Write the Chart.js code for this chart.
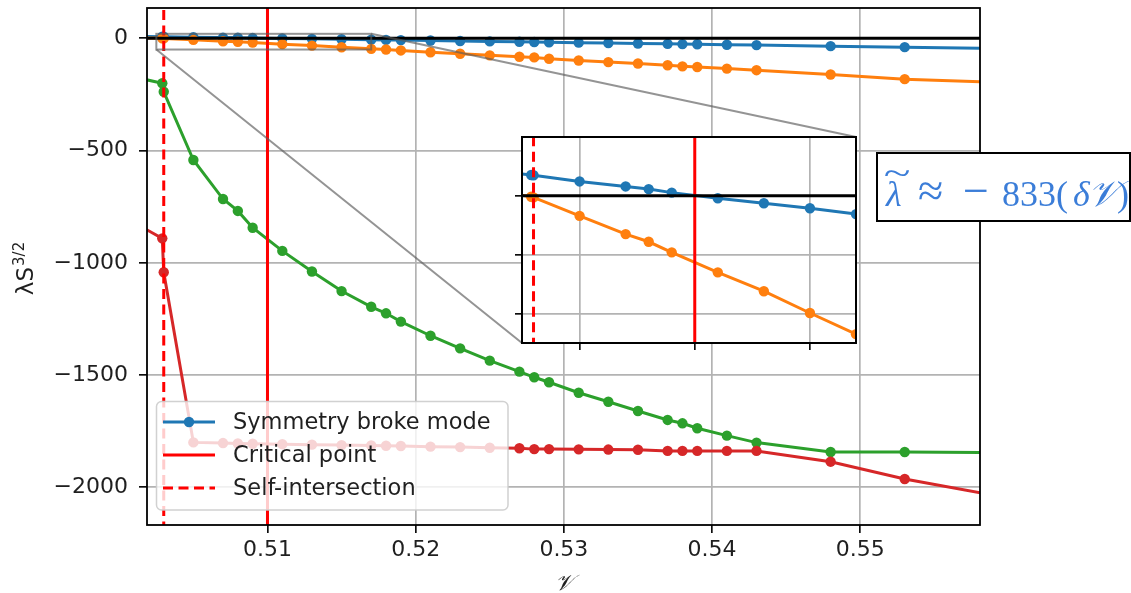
<!DOCTYPE html>
<html>
<head>
<meta charset="utf-8">
<script src="https://cdn.jsdelivr.net/npm/chart.js@4.4.1/dist/chart.umd.min.js"></script>
<style>
  html, body { margin: 0; padding: 0; background: #ffffff; }
  #wrap { position: relative; width: 1131px; height: 593px; overflow: hidden; }
  #main { position: absolute; left: 0; top: 0; }
  #inset { position: absolute; left: 505px; top: 127px; }
</style>
</head>
<body>
<div id="wrap">
  <canvas id="main" width="1131" height="593"></canvas>
  <canvas id="inset" width="360" height="230"></canvas>
</div>
<script>
// Control parameter ν (shared by all four eigenvalue branches)
const nu = [0.5015, 0.5029, 0.5030, 0.505, 0.507, 0.508, 0.509, 0.511, 0.513, 0.515,
            0.517, 0.518, 0.519, 0.521, 0.523, 0.525, 0.527, 0.528, 0.529, 0.531,
            0.533, 0.535, 0.537, 0.538, 0.539, 0.541, 0.543, 0.548, 0.553, 0.560];

// λ S^{3/2} for each branch
const symmetryBroke = [8.2, 7.1, 7.0, 4.9, 3.2, 2.3, 1.1, -0.8, -2.5, -4.2,
                       -6.2, -7.2, -8.1, -10.0, -12.0, -13.8, -15.5, -16.5, -17.4, -19.3,
                       -21.0, -23.0, -24.8, -25.7, -26.6, -28.5, -30.3, -35.0, -39.5, -46.0];
const branchOrange = [1.5, -0.3, -0.5, -6.8, -13.0, -15.6, -19.2, -26.0, -32.4, -39.8,
                      -47, -50, -54, -62, -69, -76, -82, -85, -91, -99,
                      -106, -112, -120, -125, -128, -135, -142, -161, -182, -198];
const branchGreen = [-180, -200, -238, -542, -716, -769, -844, -947, -1039, -1126,
                     -1196, -1225, -1262, -1325, -1381, -1436, -1485, -1510, -1532, -1579,
                     -1619, -1660, -1700, -1715, -1737, -1770, -1801, -1843, -1843, -1846];
const branchRed = [-840, -891, -1042, -1800, -1803, -1805, -1806, -1808, -1810, -1812,
                   -1814, -1815, -1816, -1819, -1821, -1824, -1826, -1830, -1830, -1831,
                   -1832, -1833, -1838, -1838, -1838, -1838, -1838, -1886, -1963, -2047];

const criticalNu = 0.51;
const selfIntersectionNu = 0.5030;

const xTicks = [0.51, 0.52, 0.53, 0.54, 0.55];
const yTicks = [0, -500, -1000, -1500, -2000];
const insetXTicks = [0.505, 0.51, 0.515];
const insetYTicks = [0, -20, -40];

const xRange = [0.50187, 0.55808];
const yRange = [-2168, 135];
const insetXRange = [0.5025, 0.5170];
const insetYRange = [-50, 20];

const legendLabels = ['Symmetry broke mode', 'Critical point', 'Self-intersection'];
const xTitle = '𝒱';
const yTitle = ['λS', '3/2'];

const C_BLUE = '#1f77b4', C_ORANGE = '#ff7f0e', C_GREEN = '#2ca02c', C_RED = '#d62728';
const TEXT = '#1f1f1f';
const SANS = '"DejaVu Sans", sans-serif';
const LW = 3, MR = 5.2;

const pts = ys => nu.map((x, i) => ({ x, y: ys[i] }));

function seriesDataset(ys, color, order) {
  return {
    data: pts(ys), borderColor: color, backgroundColor: color,
    borderWidth: LW, pointRadius: MR, pointBorderWidth: 0,
    pointBackgroundColor: color, pointHoverRadius: MR, clip: 0, order
  };
}
function refDatasets(xr, yr) {
  return [
    { data: [{ x: xr[0] - 0.02, y: 0 }, { x: xr[1] + 0.02, y: 0 }],
      borderColor: '#000', borderWidth: LW, pointRadius: 0, clip: 0, order: 0 },
    { data: [{ x: criticalNu, y: yr[0] - 5000 }, { x: criticalNu, y: yr[1] + 5000 }],
      borderColor: '#ff0000', borderWidth: LW, pointRadius: 0, clip: 0, order: 1 },
    { data: [{ x: selfIntersectionNu, y: yr[0] - 5000 }, { x: selfIntersectionNu, y: yr[1] + 5000 }],
      borderColor: '#ff0000', borderWidth: LW, borderDash: [10, 5.5], pointRadius: 0, clip: 0, order: 2 }
  ];
}
function allDatasets(xr, yr) {
  return refDatasets(xr, yr).concat([
    seriesDataset(branchRed, C_RED, 3),
    seriesDataset(branchGreen, C_GREEN, 4),
    seriesDataset(branchOrange, C_ORANGE, 5),
    seriesDataset(symmetryBroke, C_BLUE, 6)
  ]);
}

const GRID = { color: '#b3b3b3', lineWidth: 1.7, tickColor: '#000', tickWidth: 1.6, drawTicks: true };
const noPadY = w => s => { s.width = w; s.paddingTop = 0; s.paddingBottom = 0; };
const noPadX = h => s => { s.height = h; s.paddingLeft = 0; s.paddingRight = 0; };

/* ---------- inset (zoom on the region around ν_c) ---------- */
const INSET_LEFT = 505, INSET_TOP = 127;
const insetFrame = {
  id: 'insetFrame',
  beforeDraw(chart) {
    const { ctx, chartArea: a } = chart;
    ctx.save(); ctx.fillStyle = '#fff';
    ctx.fillRect(a.left, a.top, a.right - a.left, a.bottom - a.top);
    ctx.restore();
  },
  afterDraw(chart) {
    const { ctx, chartArea: a } = chart;
    ctx.save(); ctx.strokeStyle = '#000'; ctx.lineWidth = 2;
    ctx.strokeRect(a.left, a.top, a.right - a.left, a.bottom - a.top);
    ctx.restore();
  }
};
const insetChart = new Chart(document.getElementById('inset'), {
  type: 'line',
  data: { datasets: allDatasets(insetXRange, insetYRange) },
  options: {
    responsive: false, animation: false, devicePixelRatio: 1,
    layout: { padding: { left: 0, right: 9, top: 10, bottom: 0 } },
    plugins: { legend: { display: false }, tooltip: { enabled: false } },
    events: [],
    scales: {
      x: {
        type: 'linear', min: insetXRange[0], max: insetXRange[1],
        afterBuildTicks: s => { s.ticks = insetXTicks.map(v => ({ value: v })); },
        afterFit: noPadX(14),
        ticks: { callback: () => '', padding: 0, autoSkip: false, maxRotation: 0 },
        grid: Object.assign({}, GRID, { tickLength: 7 }),
        border: { display: false }
      },
      y: {
        type: 'linear', min: insetYRange[0], max: insetYRange[1],
        afterBuildTicks: s => { s.ticks = insetYTicks.map(v => ({ value: v })); },
        afterFit: noPadY(17),
        ticks: { callback: () => '', padding: 0, autoSkip: false },
        grid: Object.assign({}, GRID, { tickLength: 7 }),
        border: { display: false }
      }
    }
  },
  plugins: [insetFrame]
});

/* ---------- main figure ---------- */
function drawLegend(ctx, a) {
  const bx = a.left + 9.5, by = a.bottom - 123.5, bw = 351.5, bh = 108.5;
  ctx.save();
  ctx.beginPath();
  ctx.roundRect(bx, by, bw, bh, 5);
  ctx.fillStyle = 'rgba(255,255,255,0.8)';
  ctx.fill();
  ctx.strokeStyle = 'rgba(204,204,204,0.9)'; ctx.lineWidth = 1.5;
  ctx.stroke();

  const hx0 = bx + 6.5, hx1 = bx + 58.5, tx = bx + 76.5;
  const rows = [by + 20.5, by + 53.5, by + 86.5];
  ctx.lineWidth = LW; ctx.lineCap = 'butt';
  ctx.strokeStyle = C_BLUE;
  ctx.beginPath(); ctx.moveTo(hx0, rows[0]); ctx.lineTo(hx1, rows[0]); ctx.stroke();
  ctx.fillStyle = C_BLUE;
  ctx.beginPath(); ctx.arc((hx0 + hx1) / 2, rows[0], MR, 0, Math.PI * 2); ctx.fill();
  ctx.strokeStyle = '#ff0000';
  ctx.beginPath(); ctx.moveTo(hx0, rows[1]); ctx.lineTo(hx1, rows[1]); ctx.stroke();
  ctx.setLineDash([10, 5.5]);
  ctx.beginPath(); ctx.moveTo(hx0, rows[2]); ctx.lineTo(hx1, rows[2]); ctx.stroke();
  ctx.setLineDash([]);

  ctx.fillStyle = TEXT; ctx.font = '22.5px ' + SANS;
  ctx.textBaseline = 'middle'; ctx.textAlign = 'left';
  legendLabels.forEach((t, i) => ctx.fillText(t, tx, rows[i] + 1));
  ctx.restore();
}

function drawAxisTitles(ctx, a) {
  ctx.save();
  ctx.fillStyle = TEXT;
  ctx.font = 'italic 22px "DejaVu Serif", serif';
  ctx.textAlign = 'center'; ctx.textBaseline = 'alphabetic';
  ctx.fillText(xTitle, (a.left + a.right) / 2, 590);
  ctx.translate(33, 268.5);
  ctx.rotate(-Math.PI / 2);
  ctx.font = '23px ' + SANS;
  const w1 = ctx.measureText(yTitle[0]).width;
  ctx.font = '15px ' + SANS;
  const w2 = ctx.measureText(yTitle[1]).width;
  const x0 = -(w1 + w2 + 1) / 2;
  ctx.textAlign = 'left';
  ctx.font = '23px ' + SANS;
  ctx.fillText(yTitle[0], x0, 0);
  ctx.font = '15px ' + SANS;
  ctx.fillText(yTitle[1], x0 + w1 + 1, -9);
  ctx.restore();
}

function drawFitBox(ctx) {
  ctx.save();
  ctx.fillStyle = '#fff';
  ctx.fillRect(877, 153, 253, 68);
  ctx.strokeStyle = '#000'; ctx.lineWidth = 2;
  ctx.strokeRect(877, 153, 253, 68);
  ctx.fillStyle = '#3b7dd8';
  ctx.textBaseline = 'alphabetic'; ctx.textAlign = 'left';
  const serif = '"Liberation Serif", "DejaVu Serif", serif';
  const base = 206;
  // wide tilde over λ
  ctx.save();
  ctx.translate(897, 184);
  ctx.scale(1.45, 1);
  ctx.font = '34px ' + serif; ctx.textAlign = 'center';
  ctx.fillText('~', 0, 0);
  ctx.restore();
  const pieces = [
    ['λ', 886, 'italic ', 36], ['≈', 918, '', 46], ['−', 963, '', 46], ['833(', 1002, '', 36],
    ['δ', 1073, 'italic ', 36], ['𝒱', 1088, 'italic ', 36], [')', 1117, '', 36]
  ];
  pieces.forEach(([t, x, st, sz]) => { ctx.font = st + sz + 'px ' + serif; ctx.fillText(t, x, base); });
  ctx.restore();
}

const mainOverlay = {
  id: 'mainOverlay',
  afterDatasetsDraw(chart) {
    const { ctx, scales: { x, y } } = chart;
    const rx1 = x.getPixelForValue(insetXRange[0]), rx2 = x.getPixelForValue(insetXRange[1]);
    const ry1 = y.getPixelForValue(insetYRange[1]), ry2 = y.getPixelForValue(insetYRange[0]);
    const ia = insetChart.chartArea;
    ctx.save();
    ctx.strokeStyle = 'rgba(90,90,90,0.65)'; ctx.lineWidth = 2;
    ctx.strokeRect(rx1, ry1, rx2 - rx1, ry2 - ry1);
    ctx.beginPath();
    ctx.moveTo(rx2, ry1); ctx.lineTo(INSET_LEFT + ia.right, INSET_TOP + ia.top);
    ctx.moveTo(rx1, ry2); ctx.lineTo(INSET_LEFT + ia.left, INSET_TOP + ia.bottom);
    ctx.stroke();
    ctx.restore();
  },
  afterDraw(chart) {
    const { ctx, chartArea: a } = chart;
    drawLegend(ctx, a);
    ctx.save(); ctx.strokeStyle = '#000'; ctx.lineWidth = 1.8;
    ctx.strokeRect(a.left, a.top, a.right - a.left, a.bottom - a.top);
    ctx.restore();
    drawAxisTitles(ctx, a);
    drawFitBox(ctx);
  }
};

const fmtY = v => (v < 0 ? '\u2212' : '') + Math.abs(v);

new Chart(document.getElementById('main'), {
  type: 'line',
  data: { datasets: allDatasets(xRange, yRange) },
  options: {
    responsive: false, animation: false, devicePixelRatio: 1,
    layout: { padding: { left: 0, right: 151, top: 8, bottom: 0 } },
    plugins: { legend: { display: false }, tooltip: { enabled: false } },
    events: [],
    scales: {
      x: {
        type: 'linear', min: xRange[0], max: xRange[1],
        afterBuildTicks: s => { s.ticks = xTicks.map(v => ({ value: v })); },
        afterFit: noPadX(68),
        ticks: { callback: v => v.toFixed(2), font: { family: SANS, size: 22 }, color: TEXT,
                 padding: 4, autoSkip: false, maxRotation: 0, minRotation: 0 },
        grid: Object.assign({}, GRID, { tickLength: 8 }),
        border: { display: false }
      },
      y: {
        type: 'linear', min: yRange[0], max: yRange[1],
        afterBuildTicks: s => { s.ticks = yTicks.map(v => ({ value: v })); },
        afterFit: noPadY(147),
        ticks: { callback: fmtY, font: { family: SANS, size: 22 }, color: TEXT,
                 padding: 11, autoSkip: false },
        grid: Object.assign({}, GRID, { tickLength: 8 }),
        border: { display: false }
      }
    }
  },
  plugins: [mainOverlay]
});
</script>
</body>
</html>
